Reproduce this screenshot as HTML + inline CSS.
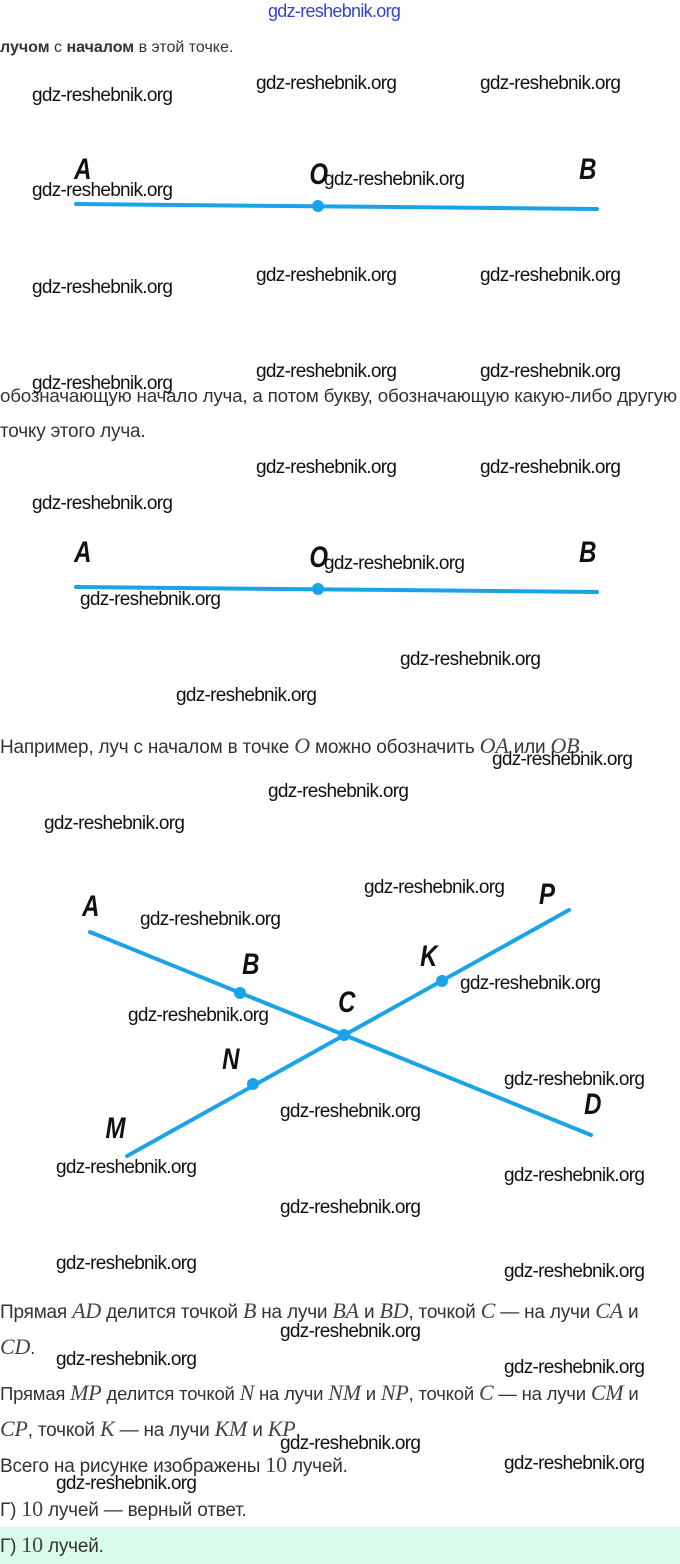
<!DOCTYPE html>
<html><head><meta charset="utf-8"><style>
body{margin:0;width:680px;height:1564px;background:#fff;position:relative;overflow:hidden;font-family:"Liberation Sans",sans-serif;}
.w{position:absolute;font-size:19px;line-height:22px;color:#111;white-space:nowrap;letter-spacing:-0.7px}
.t{position:absolute;font-size:19px;line-height:22px;color:#333;white-space:nowrap;left:0;letter-spacing:-0.2px}
.m{font-family:"Liberation Serif",serif;font-style:italic;font-size:22px;color:#444}
.L{position:absolute;font-style:italic;font-weight:bold;font-size:30px;line-height:30px;color:#111;transform:scaleX(0.8);}
svg{position:absolute;left:0;top:0}
</style></head><body>
<div style="position:absolute;left:268px;top:1px;font-size:18px;color:#3344cc;letter-spacing:-0.7px">gdz-reshebnik.org</div>
<div class="t" style="top:37px;font-size:16px;letter-spacing:0"><b>лучом</b> с <b>началом</b> в этой точке.</div>

<div class="t" style="top:385px;font-size:18.8px">обозначающую начало луча, а потом букву, обозначающую какую-либо другую</div>
<div class="t" style="top:421px">точку этого луча.</div>
<div class="t" style="top:735px">Например, луч с началом в точке <span class="m">O</span> можно обозначить <span class="m">OA</span> или <span class="m">OB</span>.</div>
<div class="t" style="top:1300px">Прямая <span class="m">AD</span> делится точкой <span class="m">B</span> на лучи <span class="m">BA</span> и <span class="m">BD</span>, точкой <span class="m">C</span> — на лучи <span class="m">CA</span> и</div>
<div class="t" style="top:1336px"><span class="m">CD</span>.</div>
<div class="t" style="top:1382px;font-size:18.5px">Прямая <span class="m">MP</span> делится точкой <span class="m">N</span> на лучи <span class="m">NM</span> и <span class="m">NP</span>, точкой <span class="m">C</span> — на лучи <span class="m">CM</span> и</div>
<div class="t" style="top:1418px"><span class="m">CP</span>, точкой <span class="m">K</span> — на лучи <span class="m">KM</span> и <span class="m">KP</span>.</div>
<div class="t" style="top:1454px">Всего на рисунке изображены <span class="m" style="font-style:normal">10</span> лучей.</div>
<div class="t" style="top:1498px">Г) <span class="m" style="font-style:normal">10</span> лучей — верный ответ.</div>
<div style="position:absolute;left:0;top:1527px;width:680px;height:37px;background:#d9fbec"></div>
<div class="t" style="top:1534px">Г) <span class="m" style="font-style:normal">10</span> лучей.</div>

<svg width="680" height="1564">
<g stroke="#1aa3e8" stroke-width="4" stroke-linecap="round" fill="#1aa3e8">
<line x1="76" y1="204" x2="597" y2="209"/><circle cx="318" cy="206" r="6" stroke="none"/>
<line x1="76" y1="587" x2="597" y2="592"/><circle cx="318" cy="589" r="6" stroke="none"/>
<line x1="90" y1="932" x2="591" y2="1135"/>
<line x1="127" y1="1156" x2="569" y2="910"/>
<circle cx="240" cy="993" r="6" stroke="none"/><circle cx="344" cy="1035" r="6" stroke="none"/>
<circle cx="442" cy="981" r="6" stroke="none"/><circle cx="253" cy="1084" r="6" stroke="none"/>
</g></svg>
<div class="L" style="left:72px;top:155px">A</div><div class="L" style="left:307px;top:160px">O</div><div class="L" style="left:577px;top:155px">B</div>
<div class="L" style="left:72px;top:538px">A</div><div class="L" style="left:307px;top:543px">O</div><div class="L" style="left:577px;top:538px">B</div>
<div class="L" style="left:80px;top:892px">A</div><div class="L" style="left:537px;top:880px">P</div>
<div class="L" style="left:240px;top:950px">B</div><div class="L" style="left:418px;top:942px">K</div>
<div class="L" style="left:336px;top:988px">C</div><div class="L" style="left:220px;top:1045px">N</div>
<div class="L" style="left:582px;top:1090px">D</div><div class="L" style="left:103px;top:1114px">M</div>

<div class="w" style="left:32px;top:85px">gdz-reshebnik.org</div>
<div class="w" style="left:256px;top:73px">gdz-reshebnik.org</div>
<div class="w" style="left:480px;top:73px">gdz-reshebnik.org</div>
<div class="w" style="left:32px;top:180px">gdz-reshebnik.org</div>
<div class="w" style="left:324px;top:169px">gdz-reshebnik.org</div>
<div class="w" style="left:32px;top:277px">gdz-reshebnik.org</div>
<div class="w" style="left:256px;top:265px">gdz-reshebnik.org</div>
<div class="w" style="left:480px;top:265px">gdz-reshebnik.org</div>
<div class="w" style="left:32px;top:373px">gdz-reshebnik.org</div>
<div class="w" style="left:256px;top:361px">gdz-reshebnik.org</div>
<div class="w" style="left:480px;top:361px">gdz-reshebnik.org</div>
<div class="w" style="left:256px;top:457px">gdz-reshebnik.org</div>
<div class="w" style="left:480px;top:457px">gdz-reshebnik.org</div>
<div class="w" style="left:32px;top:493px">gdz-reshebnik.org</div>
<div class="w" style="left:324px;top:553px">gdz-reshebnik.org</div>
<div class="w" style="left:80px;top:589px">gdz-reshebnik.org</div>
<div class="w" style="left:400px;top:649px">gdz-reshebnik.org</div>
<div class="w" style="left:176px;top:685px">gdz-reshebnik.org</div>
<div class="w" style="left:492px;top:749px">gdz-reshebnik.org</div>
<div class="w" style="left:268px;top:781px">gdz-reshebnik.org</div>
<div class="w" style="left:44px;top:813px">gdz-reshebnik.org</div>
<div class="w" style="left:364px;top:877px">gdz-reshebnik.org</div>
<div class="w" style="left:140px;top:909px">gdz-reshebnik.org</div>
<div class="w" style="left:460px;top:973px">gdz-reshebnik.org</div>
<div class="w" style="left:128px;top:1005px">gdz-reshebnik.org</div>
<div class="w" style="left:504px;top:1069px">gdz-reshebnik.org</div>
<div class="w" style="left:280px;top:1101px">gdz-reshebnik.org</div>
<div class="w" style="left:56px;top:1157px">gdz-reshebnik.org</div>
<div class="w" style="left:504px;top:1165px">gdz-reshebnik.org</div>
<div class="w" style="left:280px;top:1197px">gdz-reshebnik.org</div>
<div class="w" style="left:56px;top:1253px">gdz-reshebnik.org</div>
<div class="w" style="left:504px;top:1261px">gdz-reshebnik.org</div>
<div class="w" style="left:280px;top:1321px">gdz-reshebnik.org</div>
<div class="w" style="left:56px;top:1349px">gdz-reshebnik.org</div>
<div class="w" style="left:504px;top:1357px">gdz-reshebnik.org</div>
<div class="w" style="left:280px;top:1433px">gdz-reshebnik.org</div>
<div class="w" style="left:504px;top:1453px">gdz-reshebnik.org</div>
<div class="w" style="left:56px;top:1473px">gdz-reshebnik.org</div>
</body></html>
